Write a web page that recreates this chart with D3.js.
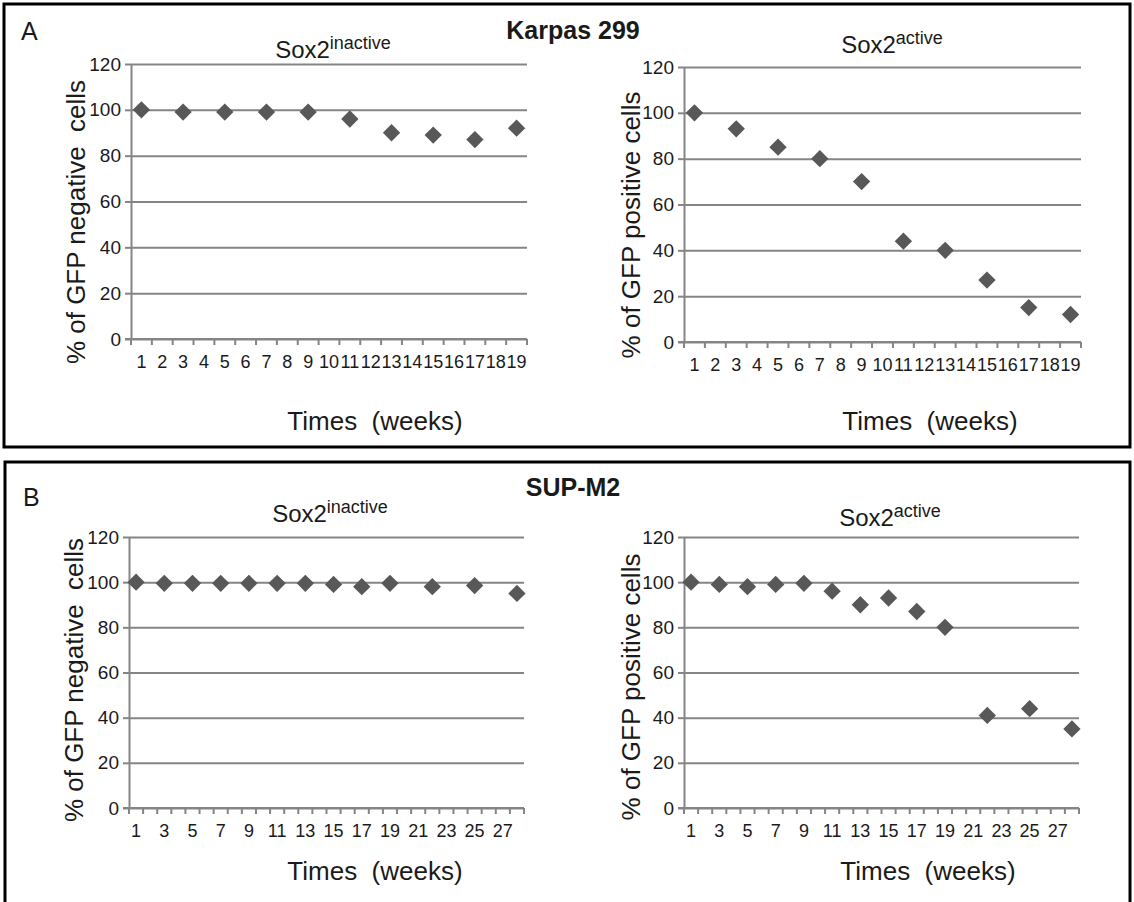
<!DOCTYPE html>
<html>
<head>
<meta charset="utf-8">
<script src="https://cdn.jsdelivr.net/npm/d3@7"></script>
<style>
  html, body { margin: 0; padding: 0; background: #fff; }
  svg text { font-family: "Liberation Sans", Arial, sans-serif; }
</style>
</head>
<body>
<svg id="fig" width="1134" height="902"></svg>
<script>
// ---- data ----
const categoriesKarpas = d3.range(1, 20);          // weeks 1..19 on the category axis
const categoriesSup = d3.range(1, 29);             // weeks 1..28 on the category axis
const tickLabelsKarpas = d3.range(1, 20);          // every week labelled
const tickLabelsSup = d3.range(1, 28, 2);          // odd weeks labelled
const yTicks = [0, 20, 40, 60, 80, 100, 120];

const karpasWeeks = [1, 3, 5, 7, 9, 11, 13, 15, 17, 19];
const karpasInactive = [100, 99, 99, 99, 99, 96, 90, 89, 87, 92];
const karpasActive = [100, 93, 85, 80, 70, 44, 40, 27, 15, 12];

const supWeeks = [1, 3, 5, 7, 9, 11, 13, 15, 17, 19, 22, 25, 28];
const supInactive = [100, 99.5, 99.5, 99.5, 99.5, 99.5, 99.5, 99, 98, 99.5, 98, 98.5, 95];
const supActive = [100, 99, 98, 99, 99.5, 96, 90, 93, 87, 80, 41, 44, 35];

const yTitleNeg = "% of GFP negative  cells";
const yTitlePos = "% of GFP positive cells";
const xTitle = "Times  (weeks)";

// ---- layout ----
const svg = d3.select("#fig");
const GRID = "#858585";
const MARK = "#585858";
const INK = "#1a1a1a";

// framed panels
svg.append("rect").attr("x", 4).attr("y", 4).attr("width", 1126).attr("height", 443)
  .attr("fill", "none").attr("stroke", "#000").attr("stroke-width", 3);
svg.append("rect").attr("x", 5).attr("y", 462).attr("width", 1125).attr("height", 445)
  .attr("fill", "none").attr("stroke", "#000").attr("stroke-width", 3);

svg.append("text").attr("x", 21).attr("y", 40).attr("font-size", 25).attr("fill", INK).text("A");
svg.append("text").attr("x", 23).attr("y", 506).attr("font-size", 25).attr("fill", INK).text("B");
svg.append("text").attr("x", 573).attr("y", 39).attr("text-anchor", "middle")
  .attr("font-size", 25).attr("font-weight", "bold").attr("fill", INK).text("Karpas 299");
svg.append("text").attr("x", 573).attr("y", 496).attr("text-anchor", "middle")
  .attr("font-size", 25).attr("font-weight", "bold").attr("fill", INK).text("SUP-M2");

function chart(cfg) {
  const g = svg.append("g");
  const x = d3.scaleBand().domain(cfg.categories).range([cfg.x0, cfg.x1]).padding(0);
  const y = d3.scaleLinear().domain([0, 120]).range([cfg.y0, cfg.y1]);

  // horizontal gridlines
  g.append("g").attr("transform", `translate(${cfg.x0},0)`)
    .call(d3.axisLeft(y).tickValues(yTicks).tickSize(-(cfg.x1 - cfg.x0)).tickFormat(""))
    .call(s => s.select(".domain").remove())
    .call(s => s.selectAll("line").attr("stroke", GRID).attr("stroke-width", 2));

  // y axis with outward ticks and labels
  g.append("g").attr("transform", `translate(${cfg.x0},0)`)
    .call(d3.axisLeft(y).tickValues(yTicks).tickSize(6).tickSizeOuter(0).tickPadding(4))
    .attr("font-size", 19).attr("font-family", "Liberation Sans, Arial, sans-serif")
    .call(s => s.select(".domain").attr("stroke", GRID).attr("stroke-width", 2))
    .call(s => s.selectAll("line").attr("stroke", GRID).attr("stroke-width", 2))
    .call(s => s.selectAll("text").attr("fill", INK));

  // x axis line
  g.append("line").attr("x1", cfg.x0 - 6).attr("x2", cfg.x1).attr("y1", cfg.y0).attr("y2", cfg.y0)
    .attr("stroke", GRID).attr("stroke-width", 2);
  // category boundary ticks
  const bounds = cfg.categories.map(c => x(c)).concat([x.range()[1]]);
  g.selectAll(".xt").data(bounds).join("line")
    .attr("x1", d => d).attr("x2", d => d).attr("y1", cfg.y0).attr("y2", cfg.y0 + 6)
    .attr("stroke", GRID).attr("stroke-width", 2);
  // category labels
  g.selectAll(".xl").data(cfg.tickLabels).join("text")
    .attr("x", d => x(d) + x.bandwidth() / 2).attr("y", cfg.y0 + 29)
    .attr("text-anchor", "middle").attr("font-size", 18).attr("fill", INK).text(d => d);

  // titles
  const t = g.append("text").attr("x", cfg.titleX).attr("y", cfg.titleY)
    .attr("text-anchor", "middle").attr("fill", INK).attr("font-size", 24);
  t.append("tspan").text("Sox2");
  t.append("tspan").attr("dy", -9).attr("font-size", 18).text(cfg.sup);

  g.append("text").attr("transform", `translate(${cfg.yTitleX},${cfg.yTitleY}) rotate(-90)`)
    .attr("text-anchor", "middle").attr("font-size", 26).attr("fill", INK)
    .style("white-space", "pre").text(cfg.yTitle);

  g.append("text").attr("x", cfg.xTitleX).attr("y", cfg.xTitleY)
    .attr("text-anchor", "middle").attr("font-size", 26).attr("fill", INK)
    .style("white-space", "pre").text(xTitle);

  // diamond markers
  const pts = cfg.weeks.map((w, i) => ({ w, v: cfg.values[i] }));
  g.selectAll(".pt").data(pts).join("path")
    .attr("d", d3.symbol().type(d3.symbolSquare).size(150))
    .attr("transform", d => `translate(${x(d.w) + x.bandwidth() / 2},${y(d.v)}) rotate(45)`)
    .attr("fill", MARK);
}

chart({ categories: categoriesKarpas, tickLabels: tickLabelsKarpas, weeks: karpasWeeks, values: karpasInactive,
  x0: 131, x1: 527, y0: 339, y1: 64, sup: "inactive", titleX: 333, titleY: 58,
  yTitle: yTitleNeg, yTitleX: 85, yTitleY: 222, xTitleX: 375, xTitleY: 430 });
chart({ categories: categoriesKarpas, tickLabels: tickLabelsKarpas, weeks: karpasWeeks, values: karpasActive,
  x0: 684, x1: 1081, y0: 342, y1: 67, sup: "active", titleX: 892, titleY: 53,
  yTitle: yTitlePos, yTitleX: 640, yTitleY: 225, xTitleX: 930, xTitleY: 430 });
chart({ categories: categoriesSup, tickLabels: tickLabelsSup, weeks: supWeeks, values: supInactive,
  x0: 129, x1: 524, y0: 808, y1: 537, sup: "inactive", titleX: 330, titleY: 522,
  yTitle: yTitleNeg, yTitleX: 83, yTitleY: 680, xTitleX: 375, xTitleY: 880 });
chart({ categories: categoriesSup, tickLabels: tickLabelsSup, weeks: supWeeks, values: supActive,
  x0: 684, x1: 1079, y0: 808, y1: 537, sup: "active", titleX: 890, titleY: 526,
  yTitle: yTitlePos, yTitleX: 640, yTitleY: 687, xTitleX: 928, xTitleY: 880 });
</script>
</body>
</html>
